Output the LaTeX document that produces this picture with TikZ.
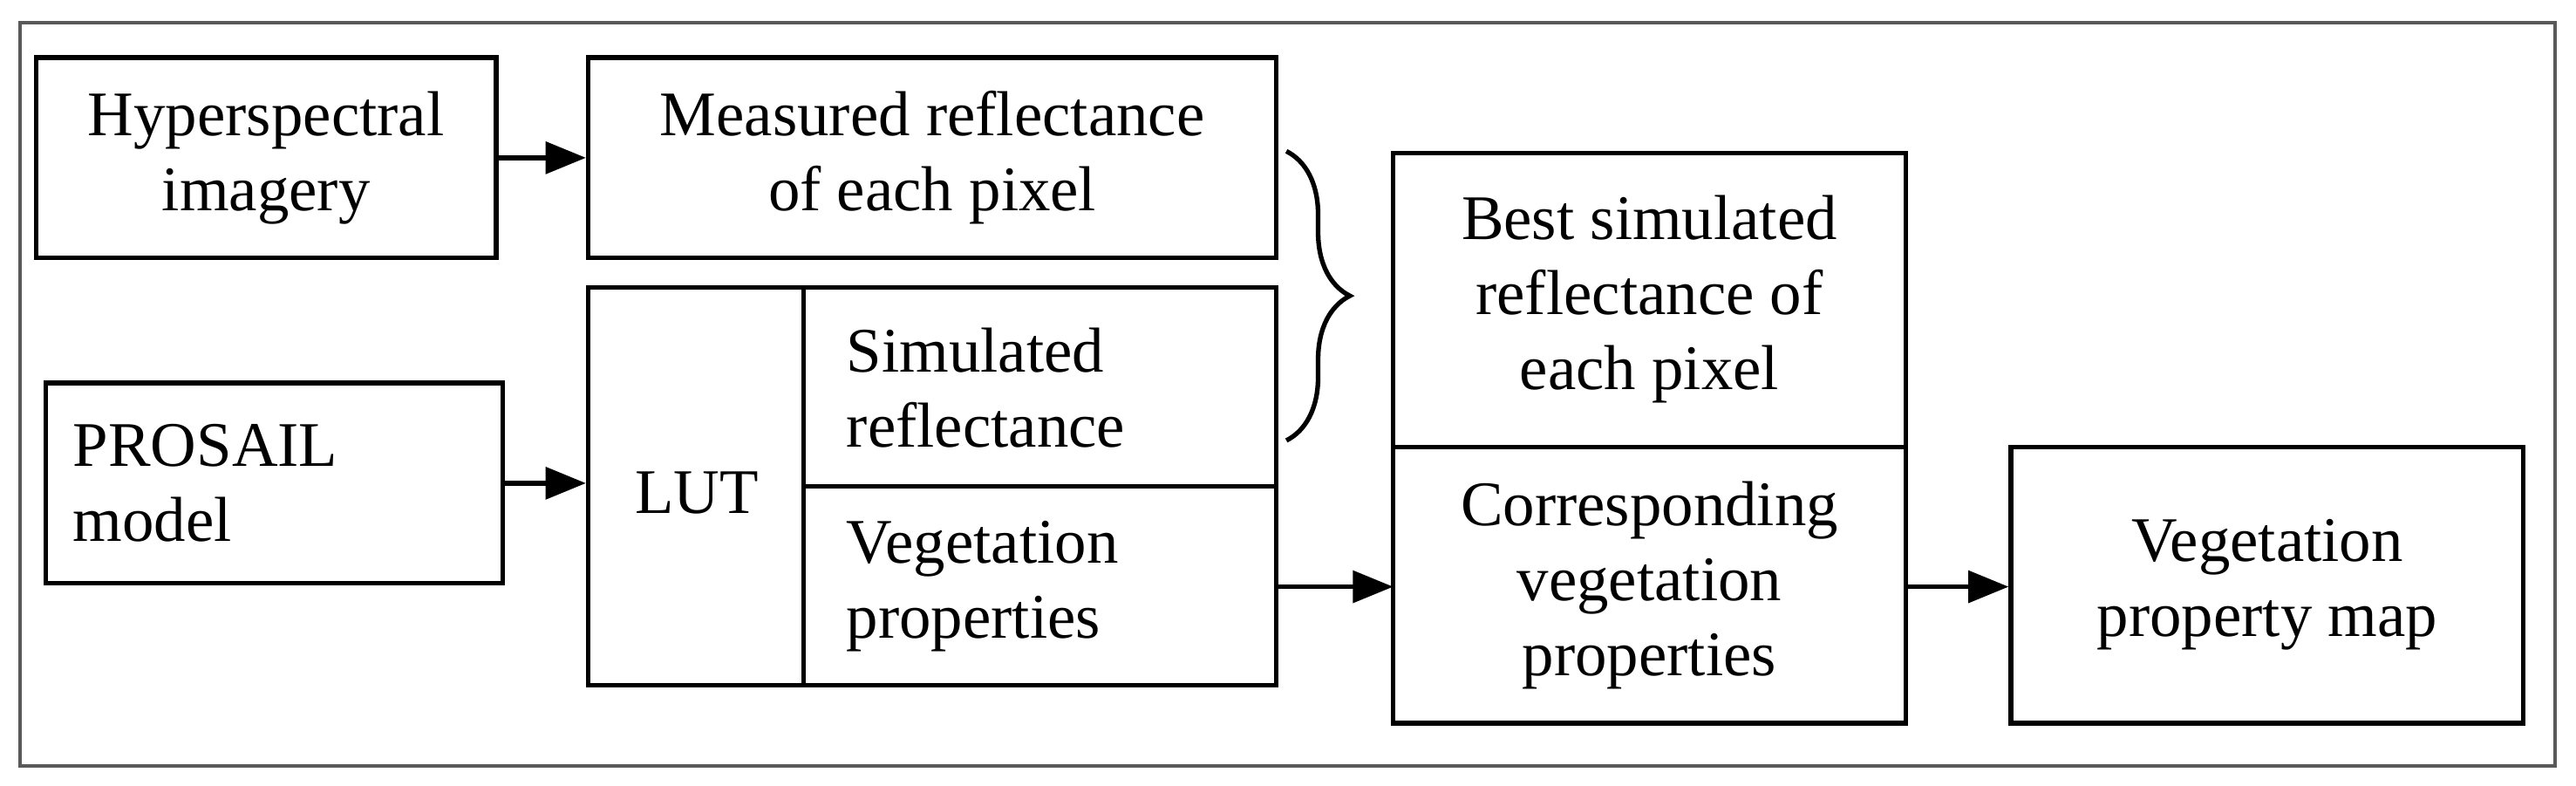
\documentclass[tikz,border=0pt]{standalone}
\usepackage{fontspec}
\setmainfont{Liberation Serif}
\usetikzlibrary{arrows.meta,decorations.pathreplacing}
\begin{document}
\begin{tikzpicture}[x=0.02cm,y=-0.02cm,
  box/.style={draw,line width=1.6pt,inner sep=0pt,font=\fontsize{22}{26}\selectfont,align=center},
  cell/.style={inner sep=0pt,font=\fontsize{22}{26}\selectfont,align=left},
  arr/.style={line width=1.6pt,-{Triangle[length=14pt,width=11pt]}}]
\useasboundingbox (0,0) rectangle (1568,478);
\draw[gray!70!black,line width=1.2pt] (12,14) rectangle (1555,466);
\node[box,minimum width=5.6cm,minimum height=2.44cm] (hyp) at (162,96) {Hyperspectral\\imagery};
\node[box,minimum width=8.38cm,minimum height=2.44cm] (meas) at (567.5,96) {Measured reflectance\\of each pixel};
\node[box,minimum width=5.56cm,minimum height=2.44cm,align=left,text width=4.9cm] (pro) at (167,294) {PROSAIL\\model};
\node[box,minimum width=8.38cm,minimum height=4.84cm] (lut) at (567.5,296) {};
\draw[line width=1.6pt] (489,175) -- (489,417) (489,296) -- (777,296);
\node[cell] (lutt) at (424,300) {LUT};
\node[cell,anchor=west] (sim) at (515,236) {Simulated\\reflectance};
\node[cell,anchor=west] (veg) at (515,357) {Vegetation\\properties};
\coordinate (vegE) at (777,357);
\node[box,minimum width=6.24cm,minimum height=6.94cm] (best) at (1004,266.5) {};
\draw[line width=1.6pt] (848,272) -- (1160,272);
\node[cell,align=center] (bestt) at (1004,182) {Best simulated\\reflectance of\\each pixel};
\node[cell,align=center] (corr) at (1004,356) {Corresponding\\vegetation\\properties};
\coordinate (corrW) at (848,357);
\coordinate (corrE) at (1160,357);
\node[box,minimum width=6.24cm,minimum height=3.36cm] (map) at (1380,356) {Vegetation\\property map};
\draw[arr] (hyp.east) -- (meas.west);
\draw[arr] (pro.east) -- (pro.east -| lut.west);
\draw[arr] (vegE) -- (corrW);
\draw[arr] (corrE) -- (corrE -| map.west);
\draw[line width=1.6pt,decorate,decoration={brace,amplitude=22pt,aspect=0.5}] (783,92) -- (783,268);
\end{tikzpicture}
\end{document}
